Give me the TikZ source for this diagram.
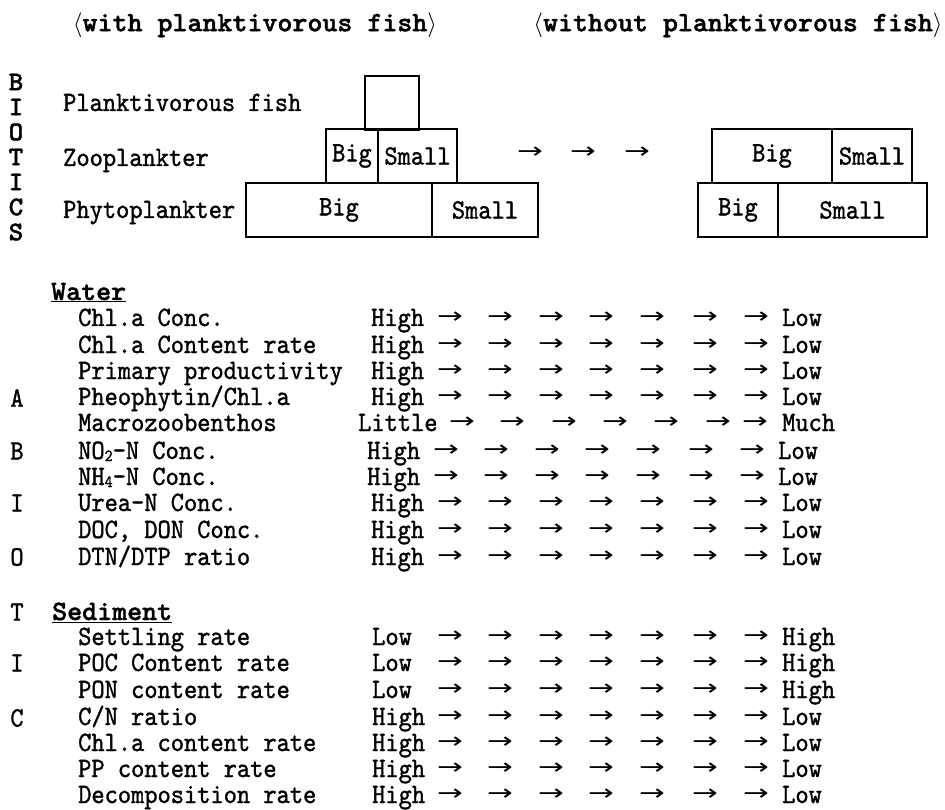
\documentclass[tikz,border=0pt]{standalone}
\usepackage{fontspec}
\usepackage{tikz}
\usetikzlibrary{positioning}
\setmainfont{lmmono10-regular.otf}[FakeStretch=0.9,FakeBold=1.2]
\newfontfamily\headfont{lmmonolt10-bold.otf}[FakeStretch=1.02,FakeBold=1.5]
\newfontfamily\arrowfont{DejaVu Sans}[FakeStretch=1.4]
\newcommand{\bodysize}{\fontsize{28}{30}\selectfont}
\newcommand{\lowidx}[1]{{\fontsize{17}{17}\selectfont\raisebox{-2pt}{#1}}}

\begin{document}
\begin{tikzpicture}[x=1pt,y=-1pt,
    cell/.style={draw,line width=1.4pt,inner sep=0pt,outer sep=0pt,minimum height=54pt,font=\bodysize},
    lbl/.style={anchor=base west,inner sep=0pt,font=\bodysize},
    head/.style={anchor=base west,inner sep=0pt,font=\headfont\bodysize},
    arr/.style={inner sep=0pt,font=\arrowfont\fontsize{22}{24}\selectfont}]
  \useasboundingbox (0,0) rectangle (945,810);
  % titles
  \node[font=\headfont\bodysize] (tw) at (255,25) {$\langle$with planktivorous fish$\rangle$};
  \node[font=\headfont\bodysize] (to) at (738,25) {$\langle$without planktivorous fish$\rangle$};
  % biotic side letters
  \foreach \ch [count=\i] in {B,I,O,T,I,C,S}
    \node[font=\headfont\fontsize{27}{28}\selectfont,inner sep=0pt] (bio\i) at (16,57+25*\i) {\ch};
  \node[lbl] (fishlab) at (63,111) {Planktivorous fish};
  \node[lbl] (zoolab) at (63,166) {Zooplankter};
  \node[lbl] (phylab) at (63,218) {Phytoplankter};
  % pyramid with fish
  \node[cell,minimum width=54pt] (fish) at (392,103) {};
  \node[cell,minimum width=52pt] (zB) at (352,156) {Big};
  \node[cell,minimum width=79pt,right=0pt of zB] (zS) {Small};
  \node[cell,minimum width=186pt] (pB) at (339,210) {Big};
  \node[cell,minimum width=106pt,right=0pt of pB] (pS) {Small};
  \node[arr] (t1) at (530,153) {→};
  \node[arr] (t2) at (583,153) {→};
  \node[arr] (t3) at (637,153) {→};
  % pyramid without fish
  \node[cell,minimum width=120pt] (rzB) at (772,156) {Big};
  \node[cell,minimum width=80pt,right=0pt of rzB] (rzS) {Small};
  \node[cell,minimum width=80pt] (rpB) at (738,210) {Big};
  \node[cell,minimum width=149pt,right=0pt of rpB] (rpS) {Small};
  % abiotic side letters
  \foreach \ch/\y [count=\i] in {A/398,B/451,I/503,O/557,T/612,I/663,C/718}
    \node[font=\bodysize,inner sep=0pt] (abio\i) at (17,\y) {\ch};
  \node[head] (water) at (51,300) {\underline{Water}};
  \node[head] (sed) at (52,620) {\underline{Sediment}};
  % rows
  \foreach \y/\name/\from/\to/\sx/\dx in {318/Chl.a Conc./High/Low/371/0,
      345/Chl.a Content rate/High/Low/371/0,
      371/Primary productivity/High/Low/371/0,
      397/{Pheophytin/Chl.a}/High/Low/371/0,
      451/NO\lowidx{2}-N Conc./High/Low/367/-4,
      477/NH\lowidx{4}-N Conc./High/Low/367/-4,
      503/Urea-N Conc./High/Low/371/0,
      530/{DOC, DON Conc.}/High/Low/371/0,
      557/{DTN/DTP ratio}/High/Low/371/0,
      637/Settling rate/Low/High/372/0,
      663/POC Content rate/Low/High/372/0,
      690/PON content rate/Low/High/372/0,
      717/{C/N ratio}/High/Low/372/0,
      743/Chl.a content rate/High/Low/372/0,
      769/PP content rate/High/Low/372/0,
      795/Decomposition rate/High/Low/372/0}{
    \node[lbl] (lab\y) at (78,\y+8) {\name};
    \node[lbl] (from\y) at (\sx,\y+8) {\from};
    \node[lbl] (to\y) at (782+\dx,\y+8) {\to};
    \foreach \ax [count=\i] in {450,500,551,601,652,705,756}
      \node[arr] (a\y-\i) at (\ax+\dx,\y) {→};
  }
  \node[lbl] (lab424) at (78,431) {Macrozoobenthos};
  \node[lbl] (from424) at (358,431) {Little};
  \node[lbl] (to424) at (782,431) {Much};
  \foreach \ax [count=\i] in {462,512,564,615,666,718,755}
    \node[arr] (a424-\i) at (\ax,423) {→};
\end{tikzpicture}
\end{document}
